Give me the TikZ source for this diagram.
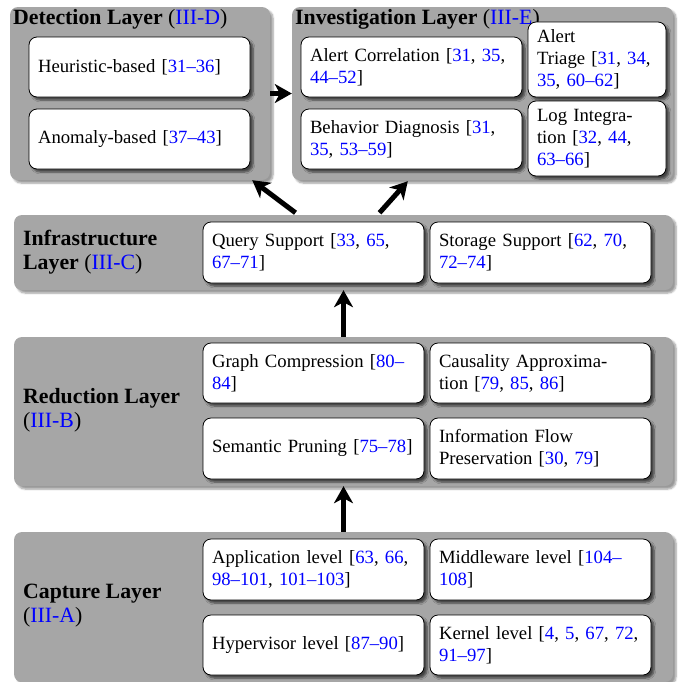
\documentclass[tikz,border=0pt]{standalone}
\usepackage{fontspec}
\setmainfont{Liberation Serif}
\usetikzlibrary{arrows.meta,shadows.blur,calc}
\definecolor{layergray}{gray}{0.65}
\newcommand{\rf}[1]{\textcolor{blue}{#1}}
\begin{document}
\begin{tikzpicture}[x=1pt,y=-1pt,
  layer/.style={fill=layergray, rounded corners=8pt, inner sep=0pt,
    blur shadow={shadow xshift=3pt, shadow yshift=-3pt, shadow opacity=40, shadow blur steps=6}},
  item/.style={draw=black, line width=0.8pt, fill=white, rounded corners=8pt,
    inner xsep=9pt, inner ysep=0pt, align=left,
    font=\fontsize{18.7}{22}\selectfont,
    blur shadow={shadow xshift=3pt, shadow yshift=-3pt, shadow opacity=60, shadow blur steps=6}},
  wide/.style={minimum width=221pt, text width=203pt},
  narrow/.style={minimum width=138pt, text width=120pt},
  ttl/.style={font=\fontsize{21.8}{24}\selectfont\bfseries, align=left, inner sep=0pt},
  arr/.style={line width=5pt, -{Stealth[length=17pt,width=19pt,inset=5pt]}}
]
\useasboundingbox (0,0) rectangle (686,681);

% layers
\node[layer, minimum width=260pt, minimum height=173pt] (det) at (140,93.5) {};
\node[layer, minimum width=381pt, minimum height=173pt] (inv) at (482.5,93.5) {};
\node[layer, minimum width=659pt, minimum height=75pt] (infra) at (343.5,252.5) {};
\node[layer, minimum width=659pt, minimum height=149pt] (red) at (343.5,411.5) {};
\node[layer, minimum width=659pt, minimum height=150pt] (cap) at (343.5,607) {};

% titles
\node[ttl, anchor=base west] (dett) at (13,24) {Detection Layer \mdseries(\rf{III-D})};
\node[ttl, anchor=base west] (invt) at (295,24) {Investigation Layer \mdseries(\rf{III-E})};
\node[ttl, anchor=west] (infrat) at (23,252.5) {Infrastructure\\Layer \mdseries(\rf{III-C})};
\node[ttl, anchor=west] (redt) at (23,410) {Reduction Layer\\\mdseries(\rf{III-B})};
\node[ttl, anchor=west] (capt) at (23,606) {Capture Layer\\\mdseries(\rf{III-A})};

% detection
\node[item, wide, minimum height=60pt] (heur) at (139.5,67) {Heuristic-based [\rf{31--36}]};
\node[item, wide, minimum height=60pt] (anom) at (139.5,139) {Anomaly-based [\rf{37--43}]};

% investigation
\node[item, wide, minimum height=60pt] (acorr) at (411.5,67) {Alert Correlation [\rf{31}, \rf{35},\\\rf{44--52}]};
\node[item, wide, minimum height=60pt] (bdiag) at (411.5,139) {Behavior Diagnosis [\rf{31},\\\rf{35}, \rf{53--59}]};
\node[item, narrow, minimum height=75pt] (triage) at (597,59.5) {Alert\\Triage [\rf{31}, \rf{34},\\\rf{35}, \rf{60--62}]};
\node[item, narrow, minimum height=75pt] (logint) at (597,138.5) {Log Integra-\\tion [\rf{32}, \rf{44},\\\rf{63--66}]};

% infrastructure
\node[item, wide, minimum height=61pt] (query) at (313.5,252.5) {Query Support [\rf{33}, \rf{65},\\\rf{67--71}]};
\node[item, wide, minimum height=61pt] (storage) at (540.5,252.5) {Storage Support [\rf{62}, \rf{70},\\\rf{72--74}]};

% reduction
\node[item, wide, minimum height=60pt] (gcomp) at (313.5,373) {Graph Compression [\rf{80--}\\\rf{84}]};
\node[item, wide, minimum height=60pt] (caus) at (540.5,373) {Causality Approxima-\\tion [\rf{79}, \rf{85}, \rf{86}]};
\node[item, wide, minimum height=61pt] (sem) at (313.5,448.5) {Semantic Pruning [\rf{75--78}]};
\node[item, wide, minimum height=61pt] (info) at (540.5,448.5) {Information Flow\\Preservation [\rf{30}, \rf{79}]};

% capture
\node[item, wide, minimum height=61pt] (app) at (313.5,569.5) {Application level [\rf{63}, \rf{66},\\\rf{98--101}, \rf{101--103}]};
\node[item, wide, minimum height=61pt] (mid) at (540.5,569.5) {Middleware level [\rf{104--}\\\rf{108}]};
\node[item, wide, minimum height=60pt] (hyp) at (313.5,645) {Hypervisor level [\rf{87--90}]};
\node[item, wide, minimum height=60pt] (kern) at (540.5,645) {Kernel level [\rf{4}, \rf{5}, \rf{67}, \rf{72},\\\rf{91--97}]};

% arrows
\draw[arr] (det.east) -- (inv.west);
\draw[arr] ($(infra.north)+(-48,-2)$) -- ($(det.south east)+(-18,0)$);
\draw[arr] ($(infra.north)+(36,-2)$) -- ($(inv.south west)+(116,1)$);
\draw[arr] (red.north) -- (infra.south);
\draw[arr] (cap.north) -- (red.south);
\end{tikzpicture}
\end{document}
